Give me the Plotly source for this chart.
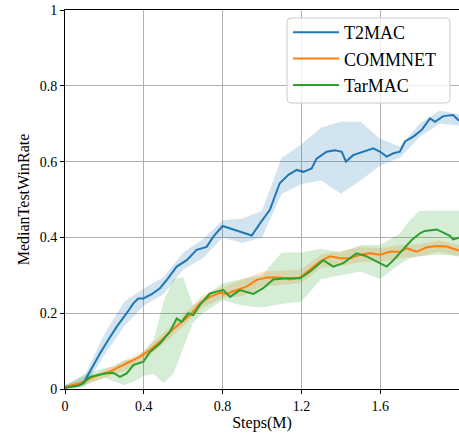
import plotly.graph_objects as go

# ---- data ----
t2mac_x = [0, 0.05, 0.093, 0.13, 0.178, 0.22, 0.262, 0.313, 0.347, 0.372, 0.398, 0.44, 0.482, 0.52,
           0.567, 0.618, 0.668, 0.719, 0.753, 0.80, 0.838, 0.888, 0.948, 0.99, 1.04, 1.09, 1.134,
           1.176, 1.21, 1.252, 1.277, 1.328, 1.371, 1.405, 1.426, 1.463, 1.514, 1.565, 1.6, 1.633,
           1.667, 1.7, 1.726, 1.768, 1.81, 1.853, 1.878, 1.92, 1.97, 2.0]
t2mac_y = [0.005, 0.007, 0.015, 0.05, 0.094, 0.13, 0.164, 0.2, 0.226, 0.239, 0.239, 0.25, 0.266, 0.29,
           0.323, 0.34, 0.367, 0.375, 0.402, 0.43, 0.424, 0.415, 0.405, 0.437, 0.473, 0.543, 0.565,
           0.578, 0.573, 0.582, 0.608, 0.626, 0.63, 0.626, 0.6, 0.617, 0.626, 0.635, 0.626, 0.613,
           0.622, 0.626, 0.653, 0.666, 0.683, 0.714, 0.705, 0.72, 0.723, 0.708]

commnet_x = [0, 0.076, 0.144, 0.228, 0.313, 0.38, 0.431, 0.482, 0.533, 0.584, 0.635, 0.685, 0.736,
             0.787, 0.82, 0.854, 0.922, 0.973, 1.024, 1.091, 1.142, 1.193, 1.244, 1.294, 1.345, 1.396,
             1.447, 1.497, 1.548, 1.599, 1.65, 1.7, 1.734, 1.785, 1.836, 1.887, 1.937, 1.99, 2.0]
commnet_y = [0.005, 0.015, 0.032, 0.046, 0.068, 0.085, 0.103, 0.125, 0.151, 0.173, 0.195, 0.226, 0.243,
             0.254, 0.25, 0.258, 0.27, 0.288, 0.294, 0.294, 0.289, 0.294, 0.314, 0.336, 0.35, 0.345,
             0.345, 0.354, 0.358, 0.354, 0.362, 0.362, 0.371, 0.362, 0.374, 0.377, 0.376, 0.367, 0.365]

tarmac_x = [0, 0.076, 0.127, 0.195, 0.245, 0.279, 0.313, 0.347, 0.398, 0.431, 0.482, 0.533, 0.567,
            0.592, 0.626, 0.651, 0.685, 0.736, 0.77, 0.804, 0.838, 0.888, 0.956, 1.006, 1.057, 1.125,
            1.193, 1.244, 1.311, 1.362, 1.413, 1.48, 1.531, 1.582, 1.633, 1.667, 1.717, 1.76, 1.802,
            1.827, 1.887, 1.92, 1.954, 1.97, 2.0]
tarmac_y = [0.003, 0.01, 0.032, 0.04, 0.043, 0.032, 0.041, 0.063, 0.072, 0.098, 0.12, 0.151, 0.186,
            0.177, 0.2, 0.195, 0.222, 0.252, 0.257, 0.261, 0.243, 0.261, 0.251, 0.266, 0.289, 0.292,
            0.292, 0.31, 0.34, 0.323, 0.332, 0.358, 0.35, 0.336, 0.323, 0.34, 0.367, 0.393, 0.411,
            0.417, 0.421, 0.413, 0.404, 0.395, 0.399]

# shaded spread bands
t2mac_band_x = [0, 0.1, 0.2, 0.3, 0.4, 0.5, 0.6, 0.7, 0.8, 0.9, 1.0, 1.1, 1.2, 1.3, 1.4, 1.5, 1.6,
                1.7, 1.8, 1.9, 2.0]
t2mac_lo = [0.0, 0.005, 0.09, 0.165, 0.22, 0.25, 0.315, 0.345, 0.4, 0.385, 0.4, 0.515, 0.54, 0.55,
            0.515, 0.55, 0.59, 0.61, 0.665, 0.7, 0.695]
t2mac_hi = [0.01, 0.035, 0.145, 0.23, 0.265, 0.295, 0.36, 0.395, 0.445, 0.45, 0.47, 0.61, 0.645, 0.69,
            0.705, 0.705, 0.66, 0.64, 0.7, 0.735, 0.725]

commnet_band_x = [0, 0.1, 0.2, 0.3, 0.4, 0.5, 0.6, 0.7, 0.8, 0.9, 1.0, 1.1, 1.2, 1.3, 1.4, 1.5, 1.6,
                  1.7, 1.8, 1.9, 2.0]
commnet_lo = [0, 0.01, 0.028, 0.048, 0.075, 0.12, 0.165, 0.215, 0.24, 0.245, 0.27, 0.275, 0.28, 0.32,
              0.325, 0.335, 0.335, 0.345, 0.35, 0.362, 0.35]
commnet_hi = [0.01, 0.025, 0.05, 0.075, 0.1, 0.148, 0.195, 0.248, 0.268, 0.29, 0.31, 0.312, 0.315,
              0.355, 0.365, 0.375, 0.372, 0.38, 0.382, 0.392, 0.38]

tarmac_band_x = [0, 0.1, 0.2, 0.25, 0.3, 0.35, 0.4, 0.45, 0.5, 0.55, 0.6, 0.65, 0.7, 0.8, 0.9, 1.0,
                 1.1, 1.2, 1.3, 1.4, 1.5, 1.6, 1.7, 1.75, 1.8, 1.9, 2.0]
tarmac_lo = [0, 0.012, 0.03, 0.02, 0.01, 0.02, 0.035, 0.04, 0.015, 0.04, 0.11, 0.175, 0.2, 0.235,
             0.22, 0.215, 0.225, 0.23, 0.29, 0.3, 0.31, 0.29, 0.33, 0.345, 0.35, 0.355, 0.35]
tarmac_hi = [0.008, 0.04, 0.055, 0.06, 0.075, 0.08, 0.1, 0.13, 0.23, 0.29, 0.295, 0.22, 0.24, 0.28,
             0.29, 0.3, 0.36, 0.36, 0.37, 0.36, 0.38, 0.38, 0.41, 0.445, 0.47, 0.47, 0.47]

x_ticks = [0, 0.4, 0.8, 1.2, 1.6, 2]
x_tick_labels = ["0", "0.4", "0.8", "1.2", "1.6", "2"]
y_ticks = [0, 0.2, 0.4, 0.6, 0.8, 1]
y_tick_labels = ["0", "0.2", "0.4", "0.6", "0.8", "1"]

series = [
    ("T2MAC", t2mac_x, t2mac_y, t2mac_band_x, t2mac_lo, t2mac_hi, "#1f77b4", "rgba(31,119,180,0.2)"),
    ("COMMNET", commnet_x, commnet_y, commnet_band_x, commnet_lo, commnet_hi, "#ff7f0e", "rgba(255,127,14,0.2)"),
    ("TarMAC", tarmac_x, tarmac_y, tarmac_band_x, tarmac_lo, tarmac_hi, "#2ca02c", "rgba(44,160,44,0.2)"),
]

FONT = "Liberation Serif"
fig = go.Figure()

for name, x, y, bx, lo, hi, col, fcol in series:
    fig.add_trace(go.Scatter(
        x=list(bx) + list(bx)[::-1], y=list(hi) + list(lo)[::-1],
        fill="toself", fillcolor=fcol, line=dict(width=0), mode="lines",
        hoverinfo="skip", showlegend=False))

for i, (name, x, y, bx, lo, hi, col, fcol) in enumerate(series):
    fig.add_trace(go.Scatter(x=x, y=y, mode="lines", name=name, legendgroup=str(i),
                             line=dict(color=col, width=2)))

# rounded legend frame (matplotlib-style)
W, H = 394.0, 379.0
x0, x1 = (287 - 65) / W, (450 - 65) / W
y1, y0 = (389 - 18) / H, (389 - 103) / H
rx, ry = 4 / W, 4 / H
path = (f"M{x0+rx},{y0} L{x1-rx},{y0} Q{x1},{y0} {x1},{y0+ry} L{x1},{y1-ry} Q{x1},{y1} {x1-rx},{y1} "
        f"L{x0+rx},{y1} Q{x0},{y1} {x0},{y1-ry} L{x0},{y0+ry} Q{x0},{y0} {x0+rx},{y0} Z")
fig.add_shape(type="path", path=path, xref="paper", yref="paper",
              fillcolor="rgba(255,255,255,0.8)", line=dict(color="#cccccc", width=1), layer="above")

axis_common = dict(showline=True, linecolor="black", linewidth=1, mirror=True,
                   ticks="outside", ticklen=4, tickwidth=1, tickcolor="black",
                   showgrid=True, gridcolor="#b0b0b0", gridwidth=1, zeroline=False,
                   automargin=False,
                   tickfont=dict(family=FONT, size=14, color="black"))

fig.update_layout(
    width=459, height=438,
    margin=dict(l=65, r=0, t=10, b=49),
    paper_bgcolor="white", plot_bgcolor="white",
    font=dict(family=FONT, color="black"),
    xaxis=dict(range=[0, 2], tickvals=x_ticks, ticktext=x_tick_labels,
               title=dict(text="Steps(M)", font=dict(family=FONT, size=16), standoff=4),
               **axis_common),
    yaxis=dict(range=[0, 1], tickvals=y_ticks, ticktext=y_tick_labels,
               title=dict(text="MedianTestWinRate", font=dict(family=FONT, size=16), standoff=6),
               **axis_common),
    legend=dict(x=x0 + 1 / W, y=y1 + 4 / H, xanchor="left", yanchor="top",
                bgcolor="rgba(0,0,0,0)", borderwidth=0,
                font=dict(family=FONT, size=18, color="black"),
                traceorder="grouped", tracegroupgap=0, itemwidth=46),
    showlegend=True,
)

fig.write_html("out.html", config={"displayModeBar": False},
               post_script="document.body.style.margin='0px';document.body.style.overflow='hidden';")
